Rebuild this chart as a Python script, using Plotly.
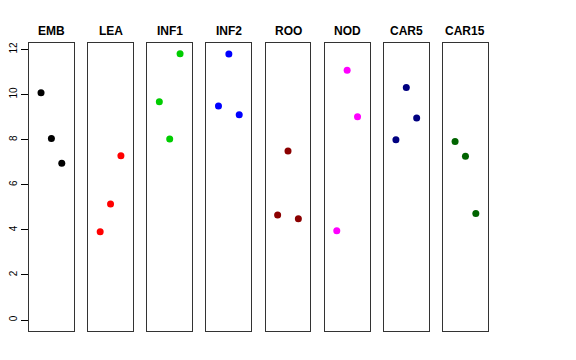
import plotly.graph_objects as go

panels = ["EMB", "LEA", "INF1", "INF2", "ROO", "NOD", "CAR5", "CAR15"]
colors = ["#000000", "#FF0000", "#00CD00", "#0000FF", "#8B0000", "#FF00FF", "#000080", "#006400"]
x_pos = [1, 2, 3]
values = {
    "EMB": [10.08, 8.05, 6.95],
    "LEA": [3.92, 5.15, 7.29],
    "INF1": [9.68, 8.03, 11.81],
    "INF2": [9.49, 11.80, 9.10],
    "ROO": [4.66, 7.50, 4.49],
    "NOD": [3.96, 11.08, 9.01],
    "CAR5": [8.00, 10.31, 8.96],
    "CAR15": [7.92, 7.26, 4.72],
}
y_ticks = [0, 2, 4, 6, 8, 10, 12]

# page body has an 8px default margin; figure is sized/positioned to compensate
OFF = 8
W, H = 576 - OFF, 360 - OFF
left0, step, pw = 29.0 - OFF, 59.15, 44.8
top_px, bot_px = 43.3 - OFF, 330.7 - OFF
title_px = 31 - OFF

fig = go.Figure()
annotations = []
for i, (name, col) in enumerate(zip(panels, colors)):
    k = "" if i == 0 else str(i + 1)
    fig.add_trace(go.Scatter(
        x=x_pos, y=values[name], mode="markers",
        marker=dict(color=col, size=7, line=dict(width=0)),
        xaxis="x" + k, yaxis="y" + k, showlegend=False, hoverinfo="y"))
    x0 = (left0 + i * step) / W
    x1 = (left0 + i * step + pw) / W
    fig.update_layout(**{
        "xaxis" + k: dict(domain=[x0, x1], range=[-0.16, 4.16], showgrid=False,
                         zeroline=False, showticklabels=False, ticks="", automargin=False,
                         showline=True, mirror=True, linecolor="#333333", linewidth=1,
                         anchor="y" + k, fixedrange=True),
        "yaxis" + k: dict(domain=[1 - bot_px / H, 1 - top_px / H], range=[-0.472, 12.272],
                         showgrid=False, zeroline=False, automargin=False,
                         showticklabels=(i == 0), ticks="outside" if i == 0 else "",
                         tickvals=y_ticks, ticklen=7, tickwidth=1, tickcolor="#000000",
                         tickangle=-90, tickfont=dict(size=10, color="#000000",
                                                      family="Liberation Sans, Arial, sans-serif"),
                         showline=True, mirror=True, linecolor="#333333", linewidth=1,
                         anchor="x" + k, fixedrange=True),
    })
    annotations.append(dict(
        text="<b>%s</b>" % name, x=(x0 + x1) / 2, y=1 - title_px / H, xref="paper", yref="paper",
        showarrow=False, xanchor="center", yanchor="middle",
        font=dict(size=12, color="#000000", family="Liberation Sans, Arial, sans-serif")))

fig.update_layout(width=W, height=H, margin=dict(l=0, r=0, t=0, b=0, autoexpand=False),
                  paper_bgcolor="white", plot_bgcolor="white",
                  annotations=annotations)
fig.write_html("out.html")
